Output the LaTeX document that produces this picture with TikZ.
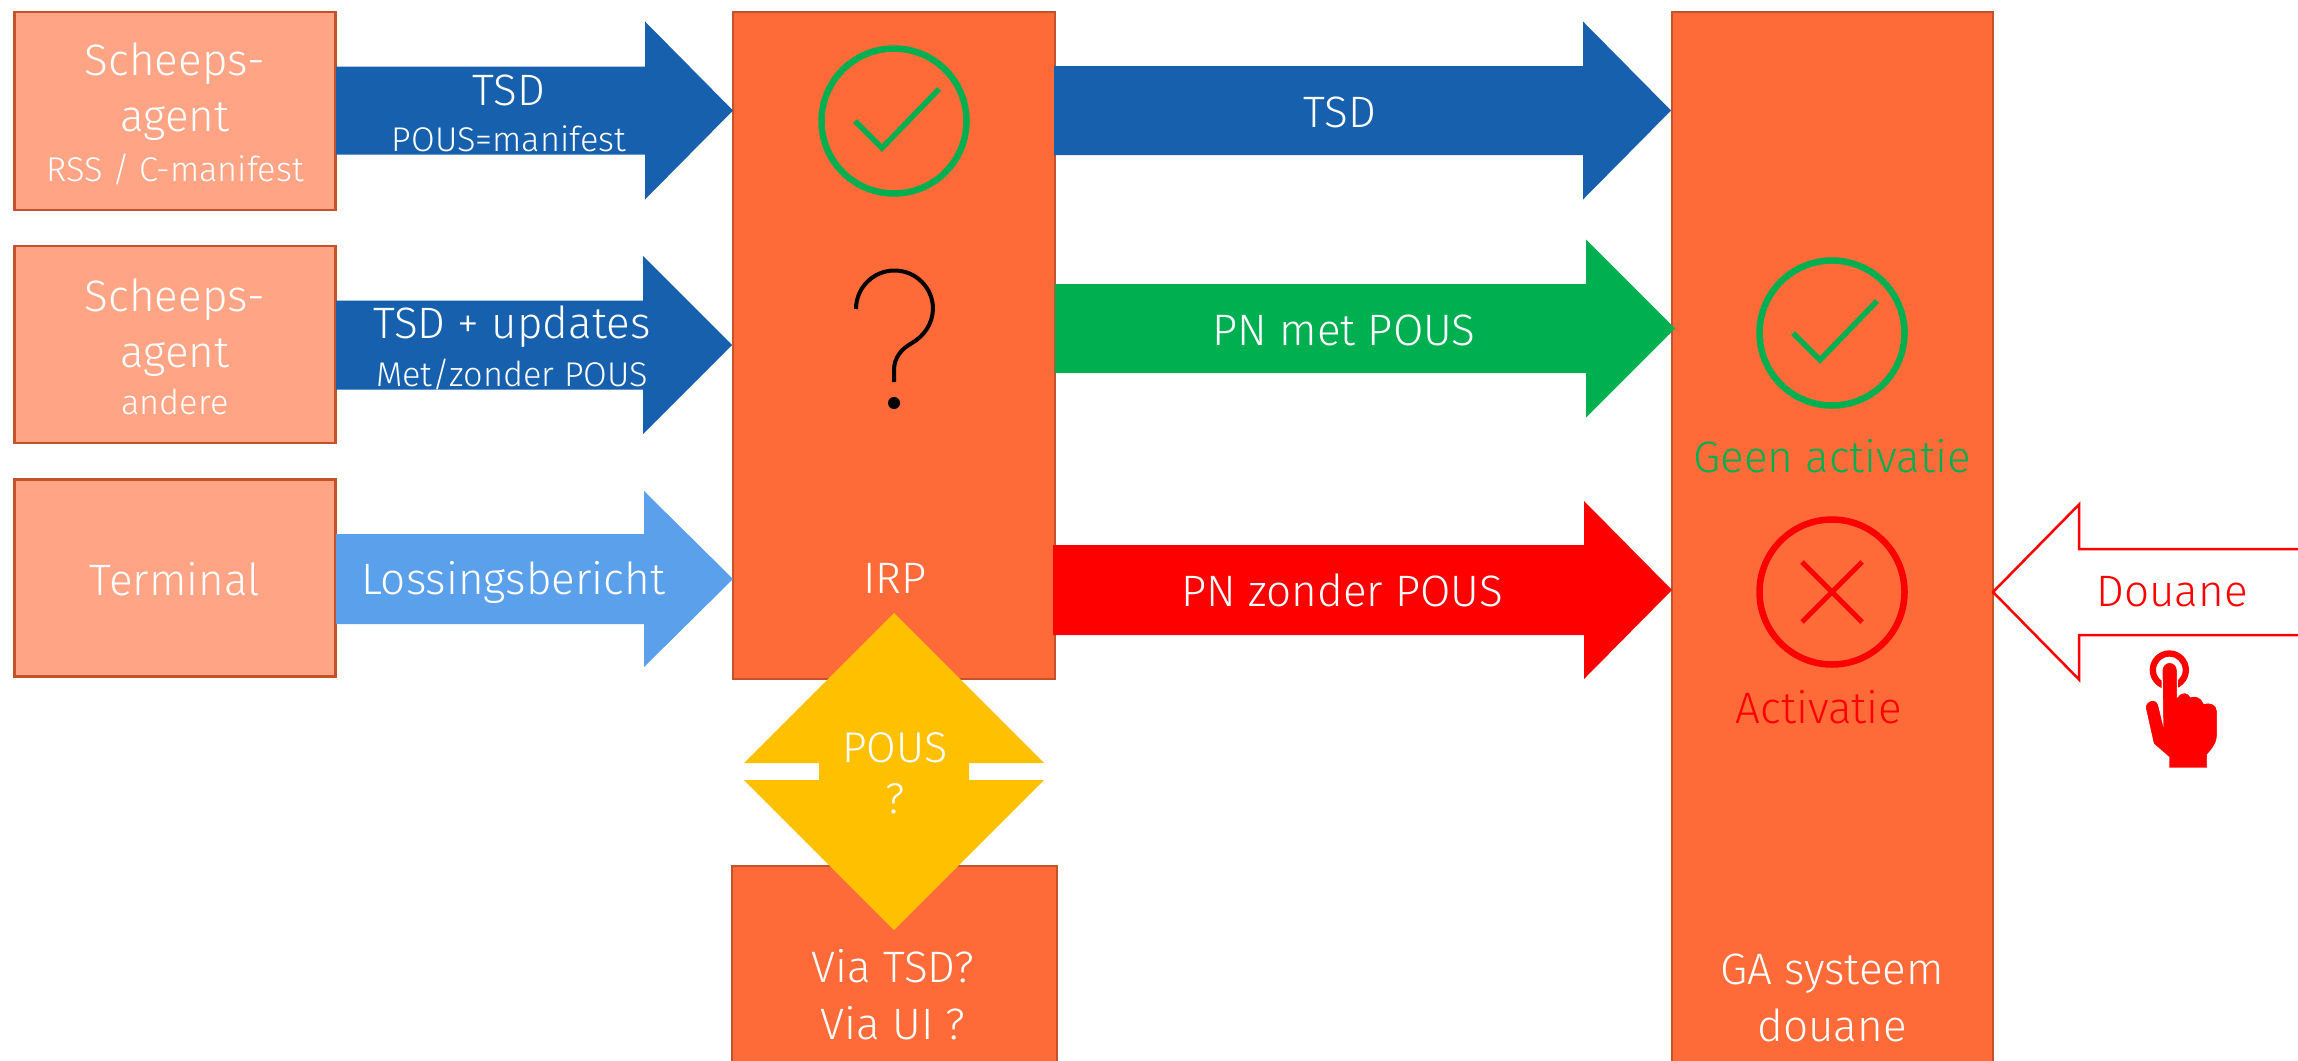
\documentclass[tikz,border=0pt]{standalone}
\usepackage{fontspec}
\setmainfont{Fira Sans Light}
\definecolor{boxorange}{HTML}{FF6A39}
\definecolor{boxlight}{HTML}{FFA585}
\definecolor{boxedge}{HTML}{C4532B}
\definecolor{darkblue}{HTML}{1660AD}
\definecolor{lightblue}{HTML}{5AA0EB}
\definecolor{okgreen}{HTML}{00B050}
\definecolor{amber}{HTML}{FFC000}
\newcommand{\blockarrow}[7][]{% style; x0, xback, xtip, yc, shaft half, head half
  \path[#1] (#2,#5-#6) -- (#3,#5-#6) -- (#3,#5-#7) -- (#4,#5) -- (#3,#5+#7) -- (#3,#5+#6) -- (#2,#5+#6) -- cycle;}
\tikzset{
  x=1pt,y=-1pt,
  srcbox/.style={draw=boxedge,line width=2.5pt,fill=boxlight,inner sep=0pt},
  sysbox/.style={draw=boxedge,line width=2.5pt,fill=boxorange,inner sep=0pt},
  big/.style={text=white,inner sep=0pt,align=center,font=\fontsize{44}{56}\selectfont},
  mid/.style={text=white,inner sep=0pt,align=center,font=\fontsize{44}{57}\selectfont},
  small/.style={text=white,inner sep=0pt,align=center,font=\fontsize{34.3}{41}\selectfont},
  okring/.style={draw=okgreen,line width=6.5pt},
  nokring/.style={draw=red,line width=6.5pt},
  tickmark/.style={draw=okgreen,line width=5.5pt,miter limit=10},
  crossmark/.style={draw=red,line width=5pt},
}
\newcommand{\okicon}[3]{\node[okring,circle,minimum size=145pt,inner sep=0pt] (#1) at (#2,#3) {};
  \draw[tickmark] (#2-39,#3) -- (#2-12,#3+27) -- (#2+45,#3-32);}
\begin{document}
\begin{tikzpicture}
\clip (0,0) rectangle (2298,1060);
\fill[white] (0,0) rectangle (2298,1060);
% source boxes
\node[srcbox,minimum width=321pt,minimum height=198pt] (agentA) at (175,111) {};
\node[srcbox,minimum width=321pt,minimum height=197pt] (agentB) at (175,344.5) {};
\node[srcbox,minimum width=321pt,minimum height=197pt] (term) at (175,578) {};
% systems
\node[sysbox,minimum width=322pt,minimum height=667pt] (irp) at (894,345.5) {};
\node[sysbox,minimum width=325pt,minimum height=300pt] (via) at (894.5,1016) {};
\node[sysbox,minimum width=321pt,minimum height=1200pt] (ga) at (1832.5,612) {};
% arrows
\blockarrow[fill=darkblue]{336}{645}{733}{110.5}{44}{89}
\blockarrow[fill=darkblue]{336}{643}{732}{345}{44.5}{89}
\blockarrow[fill=lightblue]{336}{644}{733}{579}{45}{88}
\blockarrow[fill=darkblue]{1054}{1583}{1671}{110.5}{44.5}{89}
\blockarrow[fill=okgreen]{1055}{1586}{1675}{328.5}{44.5}{89}
\blockarrow[fill=red]{1053}{1584}{1672}{590}{45}{89}
\blockarrow[draw=red,line width=2.5pt,fill=white]{2320}{2079}{1993}{592}{43}{87.5}
% diamond
\fill[amber] (894,613) -- (1044,763) -- (969,763) -- (969,780) -- (1044,780) -- (894,930) -- (744,780) -- (819,780) -- (819,763) -- (744,763) -- cycle;
% icons
\okicon{irpok}{894}{121}
\okicon{gaok}{1832}{333}
\node[nokring,circle,minimum size=145pt,inner sep=0pt] (gano) at (1832,592) {};
\draw[crossmark] (1802,562) -- (1862,622) (1862,562) -- (1802,622);
% question mark
\draw[black,line width=4pt] (856,309) arc[start angle=-180,end angle=0,radius=38.5] .. controls (932.5,324) and (924,336) .. (912,343) .. controls (901,349) and (894,358) .. (894,370) -- (894,382);
\fill[black] (894,403) circle[radius=6];
% hand icon
\begin{scope}[shift={(1950,480)},x=0.33333pt,y=-0.33333pt]
\fill[red,even odd rule] (658,570) circle[radius=59] (658,570) circle[radius=40];
\fill[red,draw=white,line width=1.2pt] (636,570) arc[start angle=-180,end angle=0,radius=23] -- (682,650) .. controls (695,632) and (715,635) .. (722,650) .. controls (735,645) and (755,650) .. (762,670) .. controls (780,665) and (802,672) .. (802,692) -- (802,770) .. controls (800,795) and (785,810) .. (772,825) -- (772,865) -- (656,865) -- (656,832) -- (610,792) -- (586,685) .. controls (583,660) and (620,650) .. (626,675) -- (638,725) -- cycle;
\end{scope}
% labels
\node[big] (l1) at (175,92) {Scheeps-\\agent};
\node[small] (l1b) at (175,169) {RSS / C-manifest};
\node[big] (l2) at (175,328) {Scheeps-\\agent};
\node[small] (l2b) at (175,402) {andere};
\node[big] (l3) at (175,579) {Terminal};
\node[mid] (t1) at (509,90.5) {TSD};
\node[small] (t1b) at (509,139) {POUS=manifest};
\node[mid] (t2) at (512,327) {TSD + updates};
\node[small] (t2b) at (512,374) {Met/zonder POUS};
\node[mid] (t3) at (513,582) {Lossingsbericht};
\node[mid] (t4) at (1340,112.5) {TSD};
\node[mid] (t5) at (1344,330) {PN met POUS};
\node[mid] (t6) at (1342,590) {PN zonder POUS};
\node[mid] (tirp) at (895,578) {IRP};
\node[small,font=\fontsize{43}{51}\selectfont] (tpous) at (895,773) {POUS\\?};
\node[mid] (tvia) at (893,995) {Via TSD?\\Via UI ?};
\node[mid,text=okgreen] (tgeen) at (1832,456) {Geen activatie};
\node[mid,text=red] (tact) at (1819,707) {Activatie};
\node[mid] (tga) at (1832,998) {GA systeem\\douane};
\node[mid,text=red] (tdou) at (2172,592) {Douane};
\end{tikzpicture}
\end{document}
